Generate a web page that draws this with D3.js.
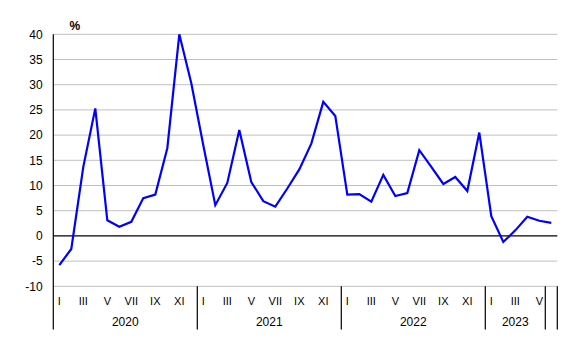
<!DOCTYPE html>
<html><head><meta charset="utf-8">
<script src="https://cdn.jsdelivr.net/npm/d3@7"></script>
<style>body{margin:0;background:#fff}svg{display:block;font-family:"Liberation Sans",Arial,sans-serif}</style>
</head><body><svg id="c" width="579" height="358"></svg>
<script>
const years = ["2020","2021","2022","2023"];
const yearMonths = [12,12,12,5];
const monthLabels = ["I","","III","","V","","VII","","IX","","XI",""];
const values = [-5.8,-2.6,13.7,25.3,3.1,1.8,2.8,7.5,8.2,17.4,40.0,30.3,
  18.0,6.1,10.5,21.0,10.7,6.9,5.8,9.4,13.2,18.3,26.6,23.8,
  8.2,8.3,6.8,12.1,7.9,8.5,17.0,13.7,10.3,11.7,8.9,20.5,
  3.9,-1.2,1.1,3.8,3.0,2.6];
const yTicks = [-10,-5,0,5,10,15,20,25,30,35,40];

const svg = d3.select("#c");
const left = 53.3, bw = 12, n = values.length;
const x = d3.scaleBand().domain(d3.range(n)).range([left, left + bw*n]).paddingInner(0).paddingOuter(0);
const y = d3.scaleLinear().domain([-10,40]).range([286.3,34.3]);
const right = left + bw*n;

// gridlines
svg.append("g").selectAll("line").data(yTicks.filter(d=>d!==0)).join("line")
  .attr("x1",left).attr("x2",right).attr("y1",d=>y(d)).attr("y2",d=>y(d))
  .attr("stroke","#c0c0c0").attr("stroke-width",1);
// zero line
svg.append("line").attr("x1",left).attr("x2",right).attr("y1",y(0)).attr("y2",y(0))
  .attr("stroke","#000").attr("stroke-width",1.2);
// y labels
svg.append("g").selectAll("text").data(yTicks).join("text")
  .attr("x",42.7).attr("y",d=>y(d)).attr("dy","0.35em").attr("text-anchor","end")
  .attr("font-size","12px").attr("fill","#000").text(d=>d);
svg.append("text").attr("x",69.5).attr("y",30).attr("font-size","12px").attr("font-weight","bold").text("%");
// left axis
svg.append("line").attr("x1",left).attr("x2",left).attr("y1",y(40)).attr("y2",329.5).attr("stroke","#000").attr("stroke-width",1.2);

// month labels
const monthData = d3.range(n).map(i=>({i, lab: monthLabels[i%12]}));
svg.append("g").selectAll("text").data(monthData.filter(d=>d.lab)).join("text")
  .attr("x",d=>x(d.i)+x.bandwidth()/2).attr("y",304.5).attr("text-anchor","middle")
  .attr("font-size","11px").text(d=>d.lab);
// year separators and labels
let start = 0; const seps = [];
years.forEach((yr,k)=>{
  const s = start, e = start + yearMonths[k];
  seps.push(e);
  svg.append("text").attr("x",(x(s)+ (e<n? x(e): right))/2).attr("y",325.8)
    .attr("text-anchor","middle").attr("font-size","12px").text(yr);
  start = e;
});
seps.push(n);
svg.append("g").selectAll("line").data(seps).join("line")
  .attr("x1",d=> d<n ? x(d) : right).attr("x2",d=> d<n ? x(d) : right)
  .attr("y1",286.3).attr("y2",329.5).attr("stroke","#000").attr("stroke-width",1.2);

// line
const line = d3.line().x((d,i)=>x(i)+x.bandwidth()/2).y(d=>y(d));
svg.append("path").datum(values).attr("d",line).attr("fill","none")
  .attr("stroke","#0000ff").attr("stroke-width",2.2).attr("stroke-linejoin","miter");
</script></body></html>
